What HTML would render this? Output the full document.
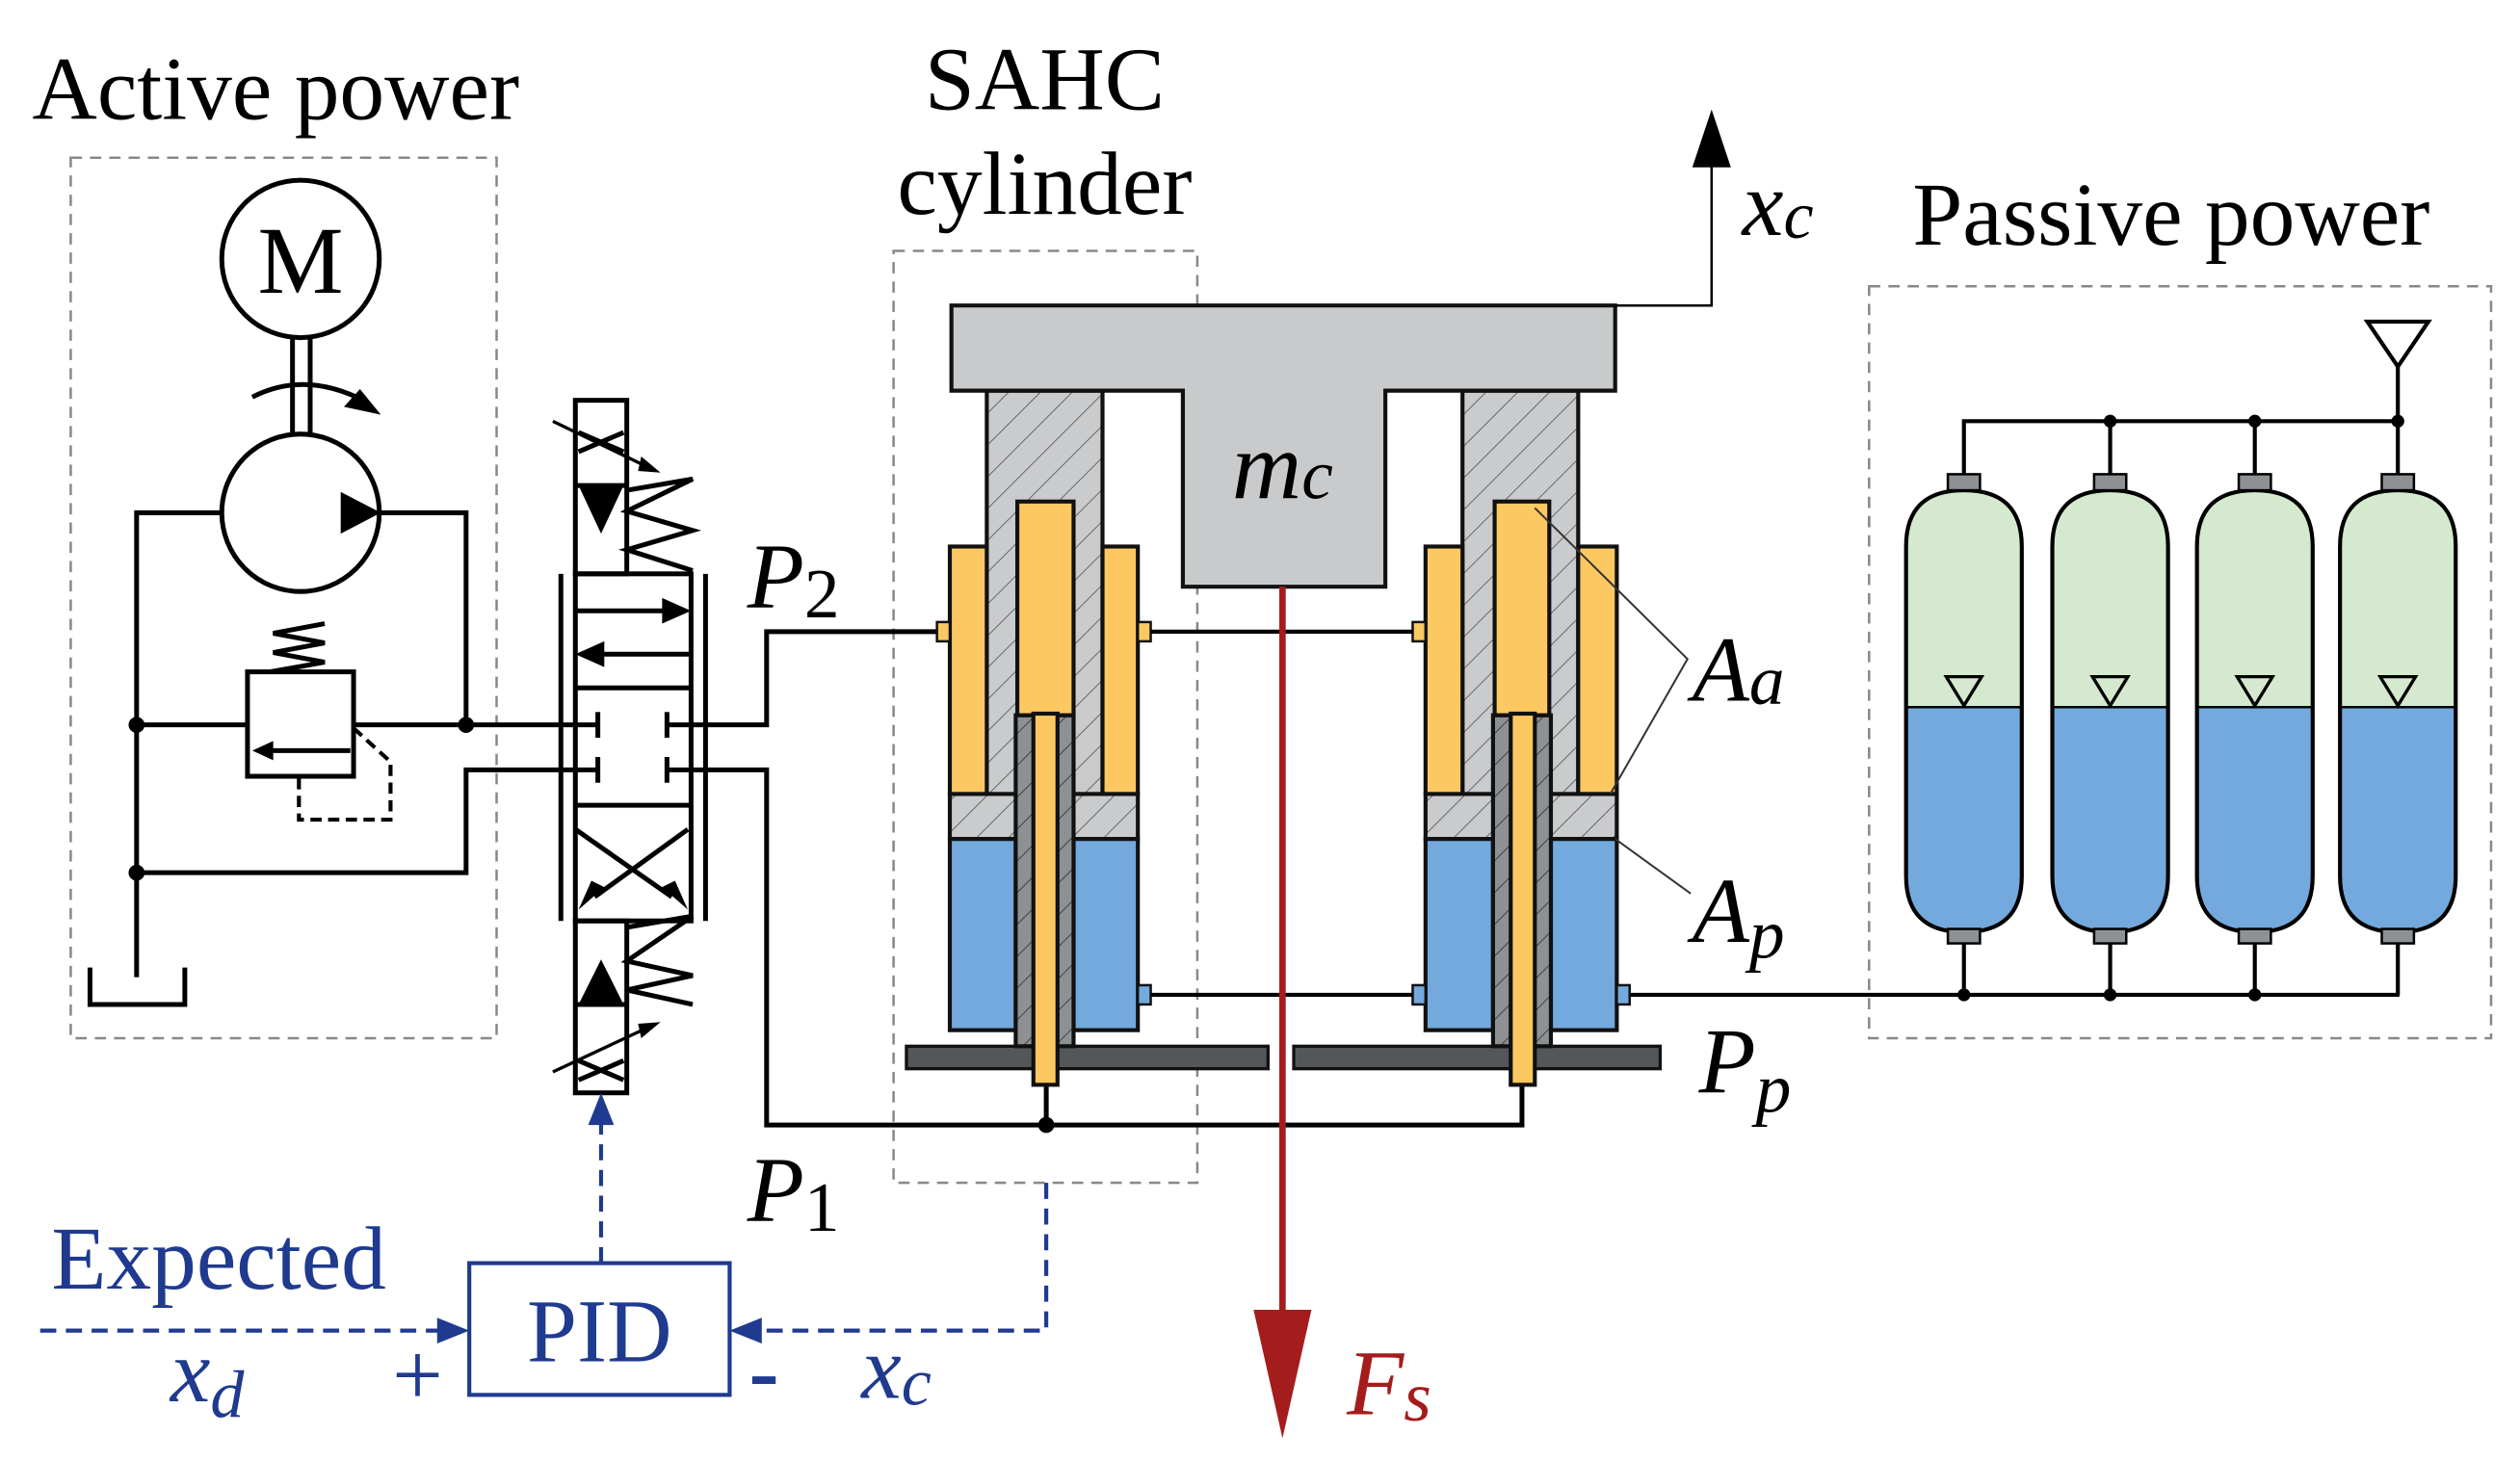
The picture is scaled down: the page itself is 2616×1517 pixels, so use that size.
<!DOCTYPE html>
<html><head><meta charset="utf-8"><style>
html,body{margin:0;padding:0;background:#fff}
svg{display:block}
text{font-family:"Liberation Serif",serif}
</style></head><body>
<svg width="2616" height="1517" viewBox="0 0 1568 909" xmlns="http://www.w3.org/2000/svg">
<defs>
<pattern id="h" patternUnits="userSpaceOnUse" width="14" height="14" patternTransform="rotate(45)">
<rect width="14" height="14" fill="#c9cbcd"/><line x1="0" y1="0" x2="0" y2="14" stroke="#555" stroke-width="1"/></pattern>
<pattern id="h2" patternUnits="userSpaceOnUse" width="14" height="14" patternTransform="rotate(45)">
<rect width="14" height="14" fill="#8d9193"/><line x1="0" y1="0" x2="0" y2="14" stroke="#333" stroke-width="1"/></pattern>
</defs>
<rect width="1568" height="909" fill="#fff"/>

<g fill="none" stroke="#888" stroke-width="1.5" stroke-dasharray="7,5">
<rect x="44" y="98" width="265" height="548"/>
<rect x="556" y="156" width="189" height="580"/>
<rect x="1163" y="178" width="387" height="468"/>
</g>

<text x="20" y="74" font-size="56">Active power</text>
<text x="650" y="68" font-size="56" text-anchor="middle">SAHC</text>
<text x="650" y="133" font-size="56" text-anchor="middle">cylinder</text>
<text x="1190" y="152" font-size="56">Passive power</text>

<g stroke="#000" stroke-width="3" fill="none">
<circle cx="187" cy="161" r="49"/>
<line x1="182" y1="209" x2="182" y2="270"/><line x1="193" y1="209" x2="193" y2="270"/>
<path d="M157 247 Q190 230 228 250"/>
<circle cx="187" cy="319" r="49"/>
<polyline points="138,319 85,319 85,608"/>
<polyline points="236,319 290,319 290,451"/>
<rect x="154" y="418" width="66" height="65"/>
<polyline points="168,418 202,412 170,406 202,400 170,394 202,388"/>
<line x1="85" y1="451" x2="154" y2="451"/>
<line x1="220" y1="451" x2="349" y2="451"/>
<polyline points="349,479 290,479 290,543 85,543"/>
<line x1="218" y1="467" x2="168" y2="467"/>
<polyline points="56,602 56,625 115,625 115,602"/>
</g>
<polygon points="157,467 170,461 170,473" fill="#000"/>
<polygon points="212,306 237,319 212,332" fill="#000"/>
<polygon points="237,258 214,253 224,242" fill="#000"/>
<polyline points="220,453 243,474 243,510 186,510 186,483" fill="none" stroke="#000" stroke-width="2.5" stroke-dasharray="7,4"/>
<g fill="#000"><circle cx="85" cy="451" r="5"/><circle cx="290" cy="451" r="5"/><circle cx="85" cy="543" r="5"/></g>
<text x="187" y="182" font-size="60" text-anchor="middle">M</text>

<g stroke="#000" stroke-width="3" fill="none">
<rect x="358" y="249" width="32" height="108"/>
<line x1="358" y1="302" x2="390" y2="302"/>
<line x1="360" y1="269" x2="388" y2="281"/><line x1="360" y1="281" x2="388" y2="269"/>
<rect x="358" y="357" width="72" height="216"/>
<line x1="358" y1="428" x2="430" y2="428"/>
<line x1="358" y1="501" x2="430" y2="501"/>
<line x1="349" y1="357" x2="349" y2="573"/><line x1="439" y1="357" x2="439" y2="573"/>
<polyline points="390,305 431,298 390,318 431,330 390,342 431,355"/>
<rect x="358" y="573" width="32" height="107"/>
<line x1="358" y1="625" x2="390" y2="625"/>
<line x1="360" y1="660" x2="388" y2="672"/><line x1="360" y1="672" x2="388" y2="660"/>
<polyline points="390,577 431,570 390,598 431,607 390,616 431,625"/>
<line x1="358" y1="380" x2="418" y2="380"/>
<line x1="370" y1="407" x2="430" y2="407"/>
<line x1="428" y1="516" x2="370" y2="558"/>
<line x1="358" y1="516" x2="418" y2="558"/>
<line x1="349" y1="451" x2="372" y2="451"/><line x1="349" y1="479" x2="372" y2="479"/>
<line x1="372" y1="443" x2="372" y2="459"/><line x1="372" y1="471" x2="372" y2="487"/>
<line x1="415" y1="443" x2="415" y2="459"/><line x1="415" y1="471" x2="415" y2="487"/>
<polyline points="415,451 477,451 477,393 583,393"/>
<polyline points="415,479 477,479 477,700 947,700 947,675"/>
<line x1="651" y1="700" x2="651" y2="675"/>
</g>
<g stroke="#000" stroke-width="2" fill="none">
<line x1="344" y1="262" x2="406" y2="292"/><line x1="344" y1="667" x2="406" y2="638"/>
</g>
<g fill="#000">
<polygon points="360,302 388,302 374,332"/>
<polygon points="360,625 388,625 374,597"/>
<polygon points="430,380 412,372 412,388"/>
<polygon points="358,407 376,399 376,415"/>
<polygon points="360,566 376,552 368,548"/>
<polygon points="428,566 412,552 420,548"/>
<polygon points="411,294 399,284 397,293"/><polygon points="411,636 397,637 399,646"/>
<circle cx="651" cy="700" r="5"/>
</g>

<!-- bottom plates -->
<g stroke="#111" stroke-width="2" fill="#54575a">
<rect x="564" y="651" width="225" height="14"/>
<rect x="805" y="651" width="228" height="14"/>
</g>

<g stroke="#111" stroke-width="2.5">
<rect x="614" y="243" width="72" height="279" fill="url(#h)"/>
<rect x="591" y="494" width="117" height="28" fill="url(#h)"/>
<rect x="591" y="340" width="23" height="154" fill="#fcc862"/>
<rect x="686" y="340" width="22" height="154" fill="#fcc862"/>
<rect x="591" y="522" width="41" height="119" fill="#73a9dc"/>
<rect x="668" y="522" width="40" height="119" fill="#73a9dc"/>
<rect x="632" y="445" width="36" height="206" fill="url(#h2)"/>
<rect x="633" y="312" width="35" height="133" fill="#fcc862"/>
<rect x="643" y="444" width="15" height="231" fill="#fcc862"/>
<rect x="583" y="387" width="8" height="12" fill="#fcc862" stroke-width="1.5"/>
<rect x="708" y="387" width="8" height="12" fill="#fcc862" stroke-width="1.5"/>
<rect x="708" y="613" width="8" height="12" fill="#73a9dc" stroke-width="1.5"/>
</g>
<g stroke="#111" stroke-width="2.5">
<rect x="910" y="243" width="72" height="279" fill="url(#h)"/>
<rect x="887" y="494" width="119" height="28" fill="url(#h)"/>
<rect x="887" y="340" width="23" height="154" fill="#fcc862"/>
<rect x="982" y="340" width="24" height="154" fill="#fcc862"/>
<rect x="887" y="522" width="42" height="119" fill="#73a9dc"/>
<rect x="965" y="522" width="41" height="119" fill="#73a9dc"/>
<rect x="929" y="445" width="36" height="206" fill="url(#h2)"/>
<rect x="930" y="312" width="34" height="133" fill="#fcc862"/>
<rect x="940" y="444" width="15" height="231" fill="#fcc862"/>
<rect x="879" y="387" width="8" height="12" fill="#fcc862" stroke-width="1.5"/>
<rect x="879" y="613" width="8" height="12" fill="#73a9dc" stroke-width="1.5"/>
<rect x="1006" y="613" width="8" height="12" fill="#73a9dc" stroke-width="1.5"/>
</g>
<path d="M592 190 H1005 V243 H862 V365 H736 V243 H592 Z" fill="#c8cacc" stroke="#111" stroke-width="2.5"/>
<text x="798" y="310" font-size="60" font-style="italic" text-anchor="middle">m<tspan font-size="44">c</tspan></text>
<g stroke="#000" stroke-width="2.5">
<line x1="716" y1="393" x2="879" y2="393"/>
<line x1="716" y1="619" x2="879" y2="619"/>
<line x1="1014" y1="619" x2="1493" y2="619"/>
</g>
<polyline points="1005,190 1065,190 1065,100" fill="none" stroke="#000" stroke-width="1.5"/>
<polygon points="1053,104 1077,104 1065,68" fill="#000"/>
<text x="1084" y="146" font-size="58" font-style="italic">x<tspan font-size="42" dy="2">c</tspan></text>

<line x1="798" y1="365" x2="798" y2="830" stroke="#a51c1c" stroke-width="4"/>
<polygon points="780,815 816,815 798,895" fill="#a51c1c"/>
<text x="838" y="880" font-size="58" font-style="italic" fill="#a51c1c">F<tspan font-size="44" dy="4">s</tspan></text>

<text x="465" y="378" font-size="58" font-style="italic">P<tspan font-size="44" dy="6" font-style="normal">2</tspan></text>
<text x="465" y="760" font-size="58" font-style="italic">P<tspan font-size="44" dy="6" font-style="normal">1</tspan></text>
<text x="1053" y="436" font-size="58" font-style="italic">A<tspan font-size="44" dy="2">a</tspan></text>
<text x="1053" y="586" font-size="58" font-style="italic">A<tspan font-size="44" dy="10">p</tspan></text>
<text x="1057" y="680" font-size="58" font-style="italic">P<tspan font-size="44" dy="12">p</tspan></text>
<g stroke="#333" stroke-width="1.2" fill="none">
<polyline points="955,316 1050,410 1002,494"/>
<line x1="1005" y1="522" x2="1052" y2="556"/>
</g>

<g stroke="#000" stroke-width="2.5" fill="none">
<polyline points="1222,298 1222,262 1492,262"/>
<line x1="1313" y1="262" x2="1313" y2="298"/>
<line x1="1403" y1="262" x2="1403" y2="298"/>
<line x1="1492" y1="228" x2="1492" y2="298"/>
<polygon points="1473,200 1511,200 1492,228"/>
<line x1="1222" y1="586" x2="1222" y2="619"/><line x1="1313" y1="586" x2="1313" y2="619"/>
<line x1="1403" y1="586" x2="1403" y2="619"/><line x1="1492" y1="586" x2="1492" y2="619"/>
</g>
<g fill="#000"><circle cx="1313" cy="262" r="4"/><circle cx="1403" cy="262" r="4"/><circle cx="1492" cy="262" r="4"/>
<circle cx="1222" cy="619" r="4"/><circle cx="1313" cy="619" r="4"/><circle cx="1403" cy="619" r="4"/></g>
<g id="acc">
<path d="M1186 440 V340 Q1186 305 1222 305 Q1258 305 1258 340 V440 Z" fill="#d4e9cd"/>
<path d="M1186 440 V545 Q1186 580 1222 580 Q1258 580 1258 545 V440 Z" fill="#73a9dc"/>
<path d="M1186 340 Q1186 305 1222 305 Q1258 305 1258 340 V545 Q1258 580 1222 580 Q1186 580 1186 545 Z" fill="none" stroke="#000" stroke-width="2.5"/>
<line x1="1186" y1="440" x2="1258" y2="440" stroke="#000" stroke-width="1.5"/>
<polygon points="1211,421 1233,421 1222,439" fill="none" stroke="#000" stroke-width="2"/>
<rect x="1212" y="295" width="20" height="10" fill="#8d9193" stroke="#000" stroke-width="1.5"/>
<rect x="1212" y="578" width="20" height="9" fill="#8d9193" stroke="#000" stroke-width="1.5"/>
</g>
<use href="#acc" x="91"/><use href="#acc" x="181"/><use href="#acc" x="270"/>

<g fill="none" stroke="#1f3a8f" stroke-width="2.5">
<rect x="292" y="786" width="162" height="82"/>
<g stroke-dasharray="10,6">
<line x1="25" y1="828" x2="278" y2="828"/>
<polyline points="651,736 651,828 470,828"/>
<line x1="374" y1="786" x2="374" y2="698"/>
</g>
</g>
<g fill="#1f3a8f">
<polygon points="292,828 272,820 272,836"/>
<polygon points="454,828 474,820 474,836"/>
<polygon points="374,680 366,700 382,700"/>
</g>
<g fill="#1f3a8f" font-size="56">
<text x="373" y="847" text-anchor="middle">PID</text>
<text x="32" y="802">Expected</text>
<text x="106" y="872" font-style="italic">x<tspan font-size="42" dy="10">d</tspan></text>
<text x="244" y="874">+</text>
<text x="466" y="872" font-weight="bold">-</text>
<text x="536" y="870" font-style="italic">x<tspan font-size="42" dy="4">c</tspan></text>
</g>
</svg>
</body></html>
